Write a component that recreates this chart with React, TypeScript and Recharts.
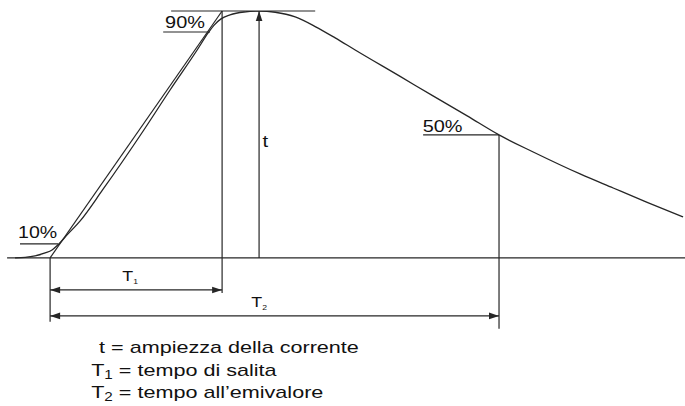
import { ComposedChart, Line, XAxis, YAxis, ReferenceLine, ReferenceDot } from 'recharts';

// impulse current, time in µs, current in % of peak
const curveTime = [
  -1.63, -1.16, -0.7, -0.23, 0.09, 0.37, 0.79, 1.4, 2.44, 4.36, 5.58, 6.84, 7.35, 7.63, 7.95, 8.37,
  9.02, 9.72, 10.47, 11.4, 12.33, 13.26, 14.19, 16.28, 17.81, 19.4, 20.88, 22.47, 24.65, 26.19, 27.77,
  29.44,
];
const curveCurrent = [
  0, 0.2, 0.8, 2.0, 3.2, 5.3, 9.3, 15.0, 27.5, 51.8, 68.0, 84.2, 91.1, 94.3, 96.8, 98.4, 99.6, 100,
  99.5, 97.6, 93.7, 89.1, 84.2, 73.5, 65.6, 57.5, 49.8, 42.9, 34.0, 28.3, 22.5, 16.6,
];

// characteristic times
const originTime = 0;
const t1Time = 8.0;
const peakTime = 9.72;
const t2Time = 20.88;

// marker levels (%)
const tenLevel = 5.7;
const ninetyLevel = 91.5;
const halfLevel = 49.8;
const peakLevel = 100;

// horizontal marker spans [from, to] in µs
const baseSpan = [-2.0, 29.53];
const tenSpan = [-1.4, 0.37];
const ninetySpan = [5.26, 7.44];
const peakSpan = [5.63, 12.33];
const halfSpan = [17.35, 20.88];

// dimension lines below the axis
const t1ArrowLevel = -13.0;
const t2ArrowLevel = -23.5;
const originExtEnd = -25.9;
const t1ExtEnd = -14.2;
const t2ExtEnd = -28.7;

const legendLines = ['t = ampiezza della corrente', ' = tempo di salita', ' = tempo all\u2019emivalore'];

const data = curveTime.map((t, i) => ({ t, i: curveCurrent[i] }));

const INK = '#262626';
const FONT = '"Liberation Sans", Arial, Helvetica, sans-serif';

function arrowShape(both: boolean) {
  return (p: any) => {
    const { x1, y1, x2, y2 } = p;
    const len = Math.hypot(x2 - x1, y2 - y1) || 1;
    const ux = (x2 - x1) / len;
    const uy = (y2 - y1) / len;
    const L = 10;
    const W = 3.3;
    const head = (x: number, y: number, dx: number, dy: number) => {
      const bx = x - dx * L;
      const by = y - dy * L;
      return `${x},${y} ${bx - dy * W},${by + dx * W} ${bx + dy * W},${by - dx * W}`;
    };
    return (
      <g>
        <line x1={x1} y1={y1} x2={x2} y2={y2} stroke={INK} strokeWidth={1.2} />
        <polygon points={head(x2, y2, ux, uy)} fill={INK} />
        {both && <polygon points={head(x1, y1, -ux, -uy)} fill={INK} />}
      </g>
    );
  };
}

function textShape(content: React.ReactNode, size: number, stretch: number) {
  return (p: any) => (
    <text
      x={0}
      y={0}
      transform={`translate(${p.cx},${p.cy}) scale(${stretch},1)`}
      fontFamily={FONT}
      fontSize={size}
      fill="#111"
    >
      {content}
    </text>
  );
}

export default function App() {
  const seg = (x1: number, y1: number, x2: number, y2: number, key: string) => (
    <ReferenceLine
      key={key}
      segment={[
        { x: x1, y: y1 },
        { x: x2, y: y2 },
      ]}
      stroke={INK}
      strokeWidth={1.2}
      ifOverflow="visible"
    />
  );

  return (
    <div style={{ position: 'absolute', left: 0, top: 0, background: '#fff' }}>
      <ComposedChart width={685} height={406} data={data} margin={{ top: 11, right: 0, bottom: 0, left: 0 }}>
        <XAxis dataKey="t" type="number" domain={[-2.33, 29.53]} allowDataOverflow hide />
        <YAxis type="number" domain={[-60, 100]} allowDataOverflow hide />

        {seg(baseSpan[0], 0, baseSpan[1], 0, 'base')}
        {seg(tenSpan[0], tenLevel, tenSpan[1], tenLevel, 'ten')}
        {seg(ninetySpan[0], ninetyLevel, ninetySpan[1], ninetyLevel, 'ninety')}
        {seg(peakSpan[0], peakLevel, peakSpan[1], peakLevel, 'peak')}
        {seg(halfSpan[0], halfLevel, halfSpan[1], halfLevel, 'half')}

        {/* virtual front line through 10% and 90% */}
        {seg(originTime, 0, t1Time, peakLevel, 'front')}

        {/* extension lines */}
        {seg(originTime, 0, originTime, originExtEnd, 'ext0')}
        {seg(t1Time, peakLevel, t1Time, t1ExtEnd, 'ext1')}
        {seg(t2Time, halfLevel, t2Time, t2ExtEnd, 'ext2')}

        <ReferenceLine
          segment={[
            { x: peakTime, y: 0 },
            { x: peakTime, y: peakLevel },
          ]}
          ifOverflow="visible"
          shape={arrowShape(false)}
        />
        <ReferenceLine
          segment={[
            { x: originTime, y: t1ArrowLevel },
            { x: t1Time, y: t1ArrowLevel },
          ]}
          ifOverflow="visible"
          shape={arrowShape(true)}
        />
        <ReferenceLine
          segment={[
            { x: originTime, y: t2ArrowLevel },
            { x: t2Time, y: t2ArrowLevel },
          ]}
          ifOverflow="visible"
          shape={arrowShape(true)}
        />

        <Line
          dataKey="i"
          type="monotone"
          stroke={INK}
          strokeWidth={1.3}
          dot={false}
          activeDot={false}
          isAnimationActive={false}
        />

        {/* labels */}
        <ReferenceDot x={-1.49} y={7.9} r={0} ifOverflow="visible" shape={textShape('10%', 17, 1.15)} />
        <ReferenceDot x={5.35} y={93.1} r={0} ifOverflow="visible" shape={textShape('90%', 17, 1.17)} />
        <ReferenceDot x={17.33} y={50.8} r={0} ifOverflow="visible" shape={textShape('50%', 17, 1.17)} />
        <ReferenceDot x={9.88} y={44.9} r={0} ifOverflow="visible" shape={textShape('t', 17, 1.2)} />
        <ReferenceDot
          x={3.36}
          y={-9.4}
          r={0}
          ifOverflow="visible"
          shape={textShape(
            <>
              T<tspan fontSize={7.5} dy={2.5}>1</tspan>
            </>,
            15.5,
            1.15,
          )}
        />
        <ReferenceDot
          x={9.36}
          y={-20.1}
          r={0}
          ifOverflow="visible"
          shape={textShape(
            <>
              T<tspan fontSize={7.5} dy={2.5}>2</tspan>
            </>,
            15.5,
            1.15,
          )}
        />

        {/* legend */}
        <ReferenceDot x={2.28} y={-38.5} r={0} ifOverflow="visible" shape={textShape(legendLines[0], 17, 1.27)} />
        <ReferenceDot
          x={1.91}
          y={-47.8}
          r={0}
          ifOverflow="visible"
          shape={textShape(
            <>
              T<tspan fontSize={12} dy={3}>1</tspan>
              <tspan dy={-3}>{legendLines[1]}</tspan>
            </>,
            17,
            1.27,
          )}
        />
        <ReferenceDot
          x={1.91}
          y={-56.7}
          r={0}
          ifOverflow="visible"
          shape={textShape(
            <>
              T<tspan fontSize={12} dy={3}>2</tspan>
              <tspan dy={-3}>{legendLines[2]}</tspan>
            </>,
            17,
            1.27,
          )}
        />
      </ComposedChart>
    </div>
  );
}
